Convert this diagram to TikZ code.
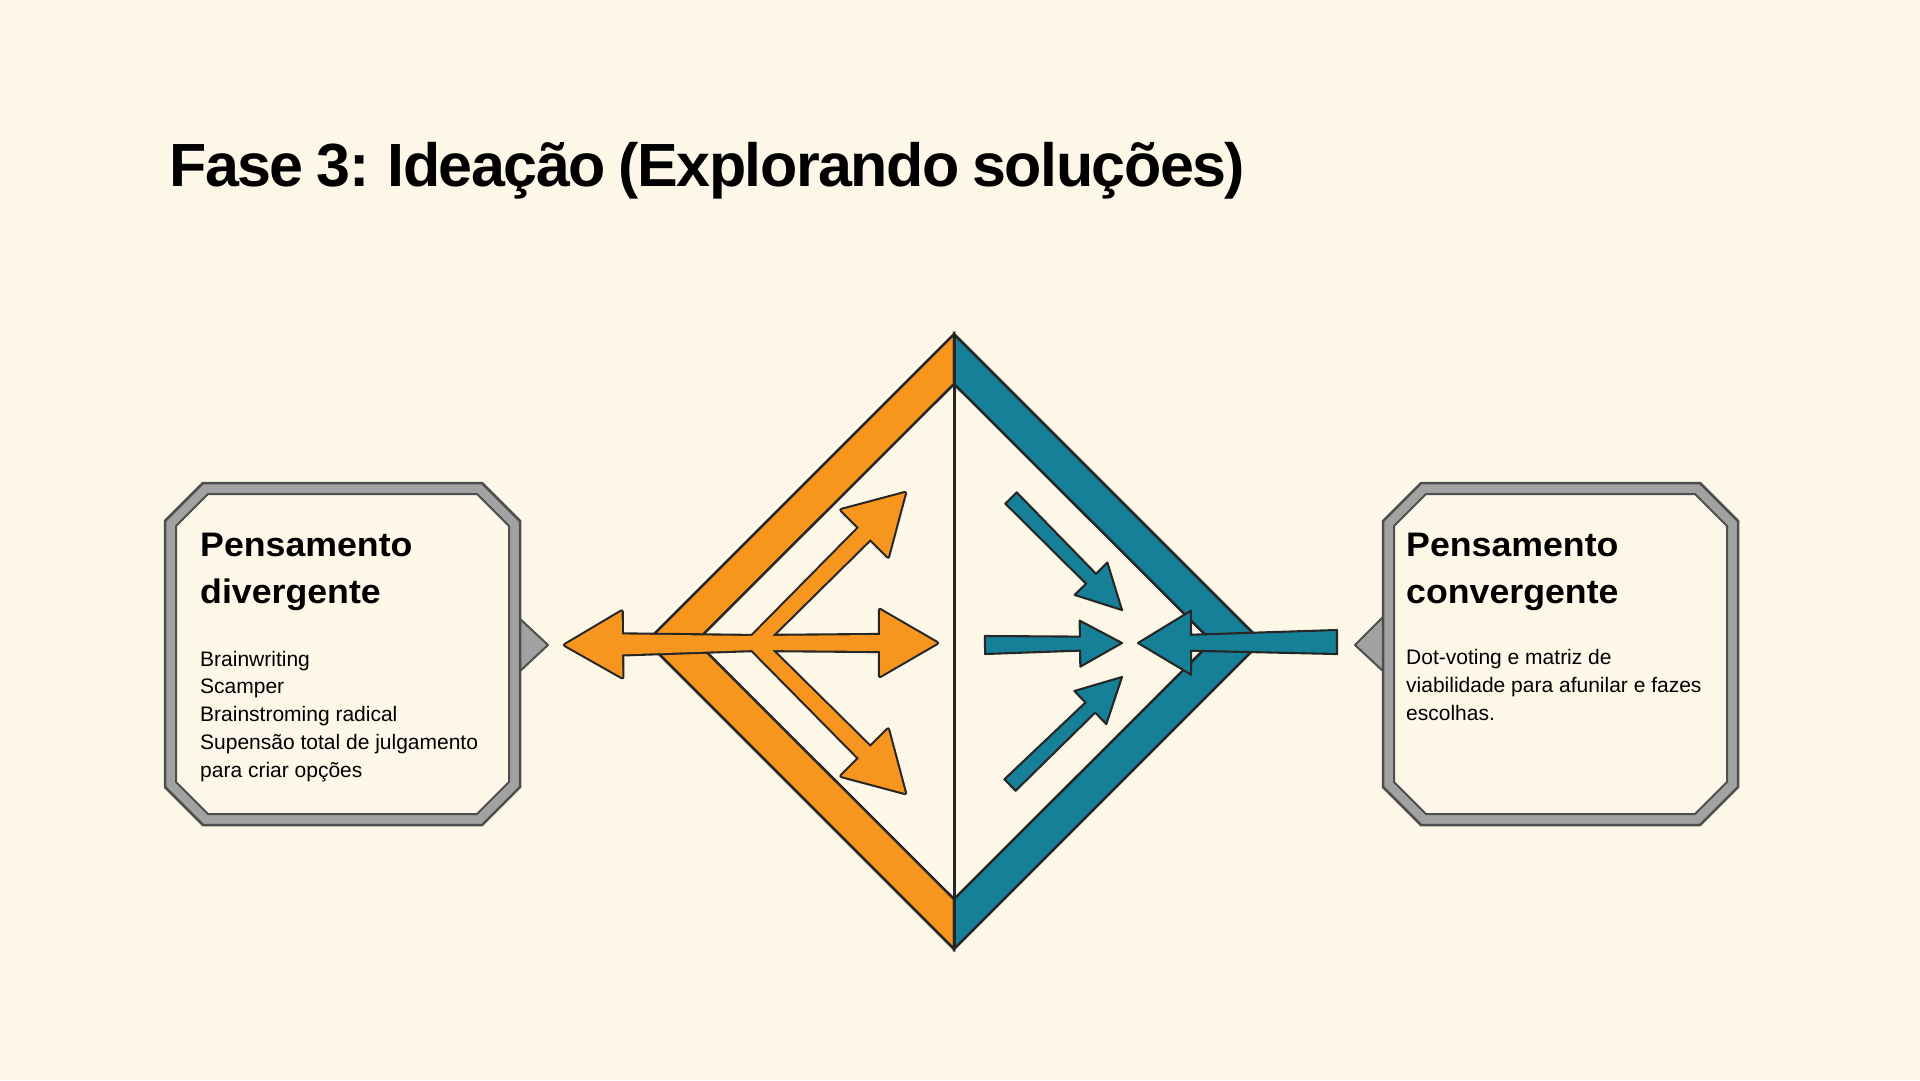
\documentclass[tikz,border=0pt]{standalone}
\usepackage{fontspec}
\setmainfont{Liberation Sans}
\newfontfamily\titlefont{Liberation Sans}[LetterSpace=-2.5,WordSpace=0.85]
\newfontfamily\headfont{Liberation Sans}[FakeStretch=1.05]
\usetikzlibrary{calc}
\definecolor{paper}{RGB}{253,247,232}
\definecolor{ink}{RGB}{38,38,38}
\definecolor{divorange}{RGB}{247,150,30}
\definecolor{convteal}{RGB}{22,128,152}
\definecolor{frame}{RGB}{162,162,162}
\definecolor{frameline}{RGB}{78,78,78}
% block arrow: tail x,y -- tip x,y, tail/neck/head half widths, head length, style
\newcommand\blockarrow[9]{%
  \pgfmathsetmacro\baAng{atan2(#2-#4,#3-#1)}%
  \pgfmathsetmacro\baLen{veclen(#3-#1,#4-#2)}%
  \path[shift={(#1,#2)},rotate=\baAng,#9] (0,#5) -- ({\baLen-#8},#6) -- ({\baLen-#8},#7) -- (\baLen,0) -- ({\baLen-#8},-#7) -- ({\baLen-#8},-#6) -- (0,-#5) -- cycle;}
% chamfered frame: x1,y1,x2,y2, chamfer, style
\newcommand\octframe[6]{%
  \path[#6] (#1+#5,#2) -- (#3-#5,#2) -- (#3,#2+#5) -- (#3,#4-#5) -- (#3-#5,#4) -- (#1+#5,#4) -- (#1,#4-#5) -- (#1,#2+#5) -- cycle;}
% the four divergent arrows, drawn twice (outline, then fill) so they merge
\newcommand\divarrows[1]{%
  \blockarrow{755}{643}{565}{645}{7}{10}{33}{57}{#1}
  \blockarrow{755}{643}{937}{643}{7}{8}{33}{57}{#1}
  \blockarrow{755}{643}{905}{493}{7}{8}{33}{57}{#1}
  \blockarrow{755}{643}{905}{793}{7}{8}{33}{57}{#1}}

\begin{document}
\begin{tikzpicture}[x=1pt,y=-1pt,
  bandline/.style={draw=ink,line width=2.5pt,line join=miter},
  arrline/.style={draw=ink,line width=4.2pt,line join=round},
  orangefill/.style={fill=divorange},
  tealarrow/.style={fill=convteal,draw=ink,line width=2.1pt,line join=round},
  pointer/.style={fill=frame,draw=frameline,line width=2pt,line join=round},
  boxband/.style={fill=frame,draw=frameline,line width=2.5pt},
  boxface/.style={fill=paper,draw=frameline,line width=2pt},
  headtext/.style={anchor=base west,align=left,inner sep=0pt,font=\headfont\fontsize{34}{47}\selectfont\bfseries},
  bodytext/.style={anchor=base west,align=left,inner sep=0pt,font=\fontsize{21}{27.75}\selectfont}]
\useasboundingbox (0,0) rectangle (1920,1080);
\fill[paper] (0,0) rectangle (1920,1080);
% title
\node[anchor=base west,inner sep=0pt,font=\titlefont\fontsize{61}{61}\selectfont\bfseries] (title) at (169,186) {Fase 3: Ideação (Explorando soluções)};
% left box (text nodes sit on the baseline of their last line)
\fill[pointer] (518,617) -- (548,645) -- (518,673) -- cycle;
\octframe{165}{483}{520}{825}{38}{boxband}
\octframe{176}{494}{509}{814}{32}{boxface}
\node[headtext] (divhead) at (200,603) {Pensamento\\divergente};
\node[bodytext] (divbody) at (200,777) {Brainwriting\\Scamper\\Brainstroming radical\\Supensão total de julgamento\\para criar opções};
% right box
\fill[pointer] (1385,615) -- (1355,645) -- (1385,673) -- cycle;
\octframe{1383}{483}{1738}{825}{38}{boxband}
\octframe{1394}{494}{1727}{814}{32}{boxface}
\node[headtext] (convhead) at (1406,603) {Pensamento\\convergente};
\node[bodytext] (convbody) at (1406,720) {Dot-voting e matriz de\\viabilidade para afunilar e fazes\\escolhas.};
% diamond halves
\path[fill=divorange,bandline] (954,334) -- (646.5,641.5) -- (954,949) -- (954,899) -- (696,641.5) -- (954,384) -- cycle;
\path[fill=convteal,bandline] (954,334) -- (1261.5,641.5) -- (954,949) -- (954,899) -- (1212,641.5) -- (954,384) -- cycle;
\draw[ink,line width=3pt] (954,334) -- (954,949);
% divergent arrows
\divarrows{arrline}
\divarrows{orangefill}
% convergent arrows
\blockarrow{1011}{498}{1122}{610}{8}{7}{23}{44}{tealarrow}
\blockarrow{985}{645}{1122}{643}{9}{7}{23}{42}{tealarrow}
\blockarrow{1010}{785}{1122}{677}{8}{7}{23}{44}{tealarrow}
\blockarrow{1337}{642}{1138}{643}{12}{8}{32}{53}{tealarrow}
\end{tikzpicture}
\end{document}
